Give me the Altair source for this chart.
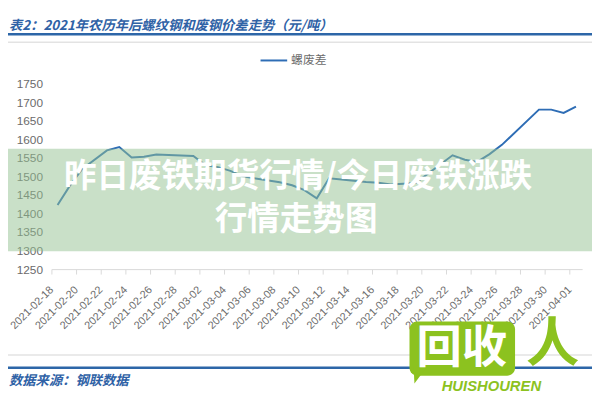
import altair as alt
import pandas as pd

# ---------------- data ----------------
all_dates = [d.strftime("%Y-%m-%d") for d in pd.date_range("2021-02-18", "2021-04-01", freq="D")]
label_dates = all_dates[::2]

obs_dates = [
    "2021-02-18", "2021-02-19", "2021-02-20", "2021-02-22", "2021-02-23", "2021-02-24",
    "2021-02-25", "2021-02-26", "2021-03-01", "2021-03-02", "2021-03-03", "2021-03-04",
    "2021-03-05", "2021-03-08", "2021-03-09", "2021-03-10", "2021-03-11", "2021-03-12",
    "2021-03-15", "2021-03-16", "2021-03-17", "2021-03-18", "2021-03-19", "2021-03-22",
    "2021-03-23", "2021-03-24", "2021-03-25", "2021-03-26", "2021-03-29", "2021-03-30",
    "2021-03-31", "2021-04-01",
]
spread_values = [
    1423, 1475, 1520, 1570, 1579, 1551,
    1553, 1559, 1555, 1530, 1525, 1515,
    1500, 1484, 1476, 1463, 1441, 1495,
    1485, 1483, 1478, 1480, 1482, 1557,
    1545, 1539, 1560, 1585, 1680, 1680,
    1671, 1688,
]
series_name = ["螺废差"]
y_ticks = [1250, 1300, 1350, 1400, 1450, 1500, 1550, 1600, 1650, 1700, 1750]

title_text = "表2：2021年农历年后螺纹钢和废钢价差走势（元/吨）"
source_text = "数据来源：钢联数据"
overlay_lines = ["昨日废铁期货行情/今日废铁涨跌", "行情走势图"]
logo_chars = ["回收", "人"]
logo_word = "HUISHOUREN"

df = pd.DataFrame({"date": obs_dates, "value": spread_values, "series": series_name[0]})
one = pd.DataFrame({"k": [0]})

BLUE = "#2e6db5"
TXT_BLUE = "#2f62a6"
GREEN = "#8cc21f"
GREY = "#6b6b6b"

line = alt.Chart(df).mark_line(strokeWidth=2).encode(
    x=alt.X(
        "date:O",
        title=None,
        scale=alt.Scale(type="point", domain=all_dates, padding=0.5),
        axis=alt.Axis(
            values=label_dates,
            tickOffset=-6.25,
            tickSize=5,
            tickColor="#d9d9d9",
            domainColor="#d9d9d9",
            labelAngle=315,
            labelAlign="right",
            labelBaseline="middle",
            labelPadding=14,
            labelFont="Liberation Sans",
            labelFontSize=11,
            labelColor=GREY,
            grid=False,
        ),
    ),
    y=alt.Y(
        "value:Q",
        title=None,
        scale=alt.Scale(domain=[1250, 1750], nice=False, zero=False),
        axis=alt.Axis(
            values=y_ticks,
            format="d",
            domain=False,
            ticks=False,
            grid=False,
            labelPadding=9,
            labelFont="Liberation Sans",
            labelFontSize=12,
            labelColor=GREY,
        ),
    ),
    color=alt.Color(
        "series:N",
        scale=alt.Scale(domain=series_name, range=[BLUE]),
        legend=alt.Legend(
            title=None,
            orient="none",
            legendX=211,
            legendY=-38,
            symbolType="stroke",
            symbolSize=729,
            symbolStrokeWidth=2,
            labelOffset=3,
            labelFont="Noto Sans CJK SC",
            labelFontSize=12,
            labelColor=GREY,
            padding=0,
        ),
    ),
)


def txt(s, x, y, **kw):
    return alt.Chart(one).mark_text(text=s, **kw).encode(x=alt.value(x), y=alt.value(y))


def hrule(y, color, w):
    return alt.Chart(one).mark_rule(color=color, strokeWidth=w).encode(
        x=alt.value(-60), x2=alt.value(560), y=alt.value(y)
    )


band = alt.Chart(one).mark_rect(color="#93c191", opacity=0.5).encode(
    x=alt.value(-60), x2=alt.value(560), y=alt.value(66), y2=alt.value(170)
)

overlay1 = txt(overlay_lines[0], 250, 95, font="Noto Sans CJK SC", fontWeight="bold",
               fontSize=33, color="white", align="center", baseline="middle")
overlay2 = txt(overlay_lines[1], 248, 138, font="Noto Sans CJK SC", fontWeight="bold",
               fontSize=33, color="white", align="center", baseline="middle")

title = txt(title_text, -43, -58, font="Noto Sans CJK SC", fontWeight="bold", fontStyle="italic",
            fontSize=13.5, color=TXT_BLUE, align="left", baseline="middle")
rule_top = hrule(-50, "#2d66a8", 2.5)
rule_top_grey = hrule(-42, "#e3e3e3", 1.5)
rule_bot_grey = hrule(275, "#e3e3e3", 1.5)
rule_bot = hrule(288, "#2d66a8", 2.5)
source = txt(source_text, -43, 301, font="Noto Sans CJK SC", fontWeight="bold", fontStyle="italic",
             fontSize=13.5, color=TXT_BLUE, align="left", baseline="middle")

logo_box = alt.Chart(one).mark_rect(color=GREEN, cornerRadius=8).encode(
    x=alt.value(363), x2=alt.value(470), y=alt.value(241), y2=alt.value(296)
)
logo_tail = alt.Chart(one).mark_point(
    shape="M-0.6,-1 L1,-1 L-0.5,1 Z", filled=True, size=256, color=GREEN, opacity=1
).encode(x=alt.value(372), y=alt.value(296))
logo_txt = txt(logo_chars[0], 416, 269, font="Noto Sans CJK SC", fontWeight="bold",
               fontSize=46, color="white", align="center", baseline="middle")
logo_ren = txt(logo_chars[1], 508, 266, font="Noto Sans CJK SC", fontWeight="bold",
               fontSize=54, color=GREEN, align="center", baseline="middle")
logo_word_t = txt(logo_word, 446, 307, font="Liberation Sans", fontWeight="bold", fontStyle="italic",
                  fontSize=15, color=GREEN, align="center", baseline="middle")

chart = alt.layer(
    line, band, overlay1, overlay2, title, rule_top, rule_top_grey, rule_bot_grey, rule_bot,
    source, logo_box, logo_tail, logo_txt, logo_ren, logo_word_t,
).properties(
    width=538,
    height=188,
    autosize=alt.AutoSizeParams(type="none"),
    padding={"left": 44, "top": 74, "right": 10, "bottom": 130},
    background="white",
).configure_view(strokeWidth=0)

chart.save("out.html", embed_options={"renderer": "svg", "actions": False})
